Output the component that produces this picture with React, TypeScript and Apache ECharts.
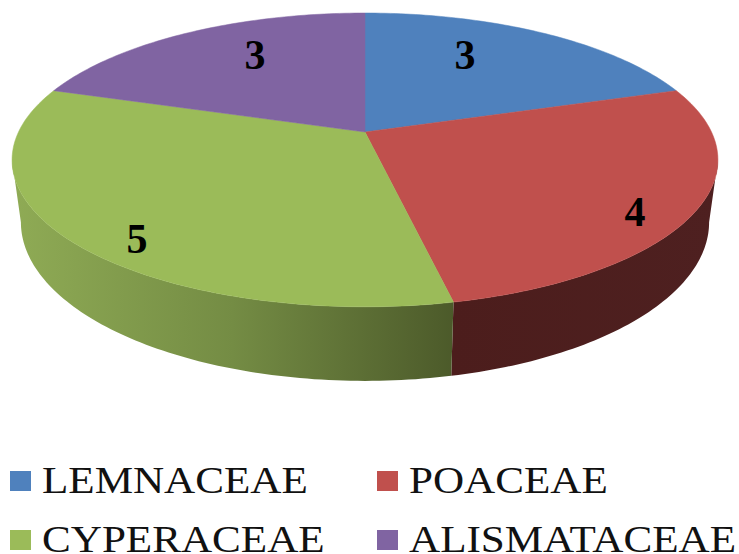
import React, { useEffect, useRef } from "react";
import * as echarts from "echarts";

const families = ["LEMNACEAE", "POACEAE", "CYPERACEAE", "ALISMATACEAE"];
const counts = [3, 4, 5, 3];
const sliceColors = ["#4f81bd", "#c0504d", "#9bbb59", "#8064a2"];
const serifFont = '"Liberation Serif", "Times New Roman", serif';

// Projection of the tilted disc onto the page.
const APEX_X = 365;
const APEX_Y = 132;
const RADIUS_X = 346.5;
const RADIUS_Y = 141.6;
const PERSPECTIVE = 0.19;
const THICKNESS = 60;
const BASE_SHRINK = 0.975;
const WALL_FROM = 101;
const WALL_TO = 259;

// Value label centres, relative to the apex.
const labelOffsets = [
  [100, -77],
  [270, 80],
  [-228, 107],
  [-110, -77],
];

const wallFills = [
  null,
  new echarts.graphic.LinearGradient(0, 0, 1, 0, [
    { offset: 0, color: "#4c1d1c" },
    { offset: 1, color: "#4e2020" },
  ]),
  new echarts.graphic.LinearGradient(0, 0, 1, 0, [
    { offset: 0, color: "#8fab55" },
    { offset: 0.5, color: "#748c44" },
    { offset: 1, color: "#4c5a2a" },
  ]),
  null,
];

function project(deg: number, r = 1): [number, number, number] {
  const a = (deg * Math.PI) / 180;
  const X = r * Math.sin(a);
  const Y = r * Math.cos(a);
  const s = 1 / (1 + PERSPECTIVE * Y);
  return [APEX_X + RADIUS_X * X * s, APEX_Y - RADIUS_Y * Y * s, s];
}

function arc(from: number, to: number): number[][] {
  const steps = Math.max(2, Math.ceil(Math.abs(to - from)));
  const pts: number[][] = [];
  for (let i = 0; i <= steps; i++) {
    const p = project(from + ((to - from) * i) / steps);
    pts.push(p);
  }
  return pts;
}

const toBase = (p: number[]) => [
  APEX_X + (p[0] - APEX_X) * BASE_SHRINK,
  p[1] + THICKNESS * p[2],
];

const total = counts.reduce((a, b) => a + b, 0);

function renderSlice(params: any, api: any) {
  const i = params.dataIndex;
  const before = counts.slice(0, i).reduce((a, b) => a + b, 0);
  const start = (before / total) * 360;
  const end = start + (api.value(0) / total) * 360;
  const children: any[] = [];

  const wFrom = Math.max(start, WALL_FROM);
  const wTo = Math.min(end, WALL_TO);
  if (wTo > wFrom && wallFills[i]) {
    const rim = arc(wFrom, wTo);
    const base = rim.map(toBase).reverse();
    children.push({
      type: "polygon",
      shape: { points: [...rim.map((p) => [p[0], p[1]]), ...base] },
      style: { fill: wallFills[i] },
    });
  }

  const top = arc(start, end).map((p) => [p[0], p[1]]);
  children.push({
    type: "polygon",
    shape: { points: [[APEX_X, APEX_Y], ...top] },
    style: { fill: sliceColors[i], stroke: sliceColors[i], lineWidth: 0.5 },
  });

  children.push({
    type: "text",
    z2: 10,
    x: APEX_X + labelOffsets[i][0],
    y: APEX_Y + labelOffsets[i][1],
    style: {
      text: String(api.value(0)),
      fill: "#000",
      fontFamily: serifFont,
      fontWeight: "bold",
      fontSize: 42,
      align: "center",
      verticalAlign: "middle",
    },
  });

  return { type: "group", children };
}

// Two-column key below the disc; the glyphs are stretched sideways.
const keyColumns = [10, 377];
const keyRows = [471, 530];
const keyTextLeft = [42, 409];

function keyEntries() {
  const items: any[] = [];
  families.forEach((name, idx) => {
    const col = idx % 2;
    const y = keyRows[Math.floor(idx / 2)];
    items.push({
      type: "rect",
      shape: { x: keyColumns[col], y, width: 21, height: 20 },
      style: { fill: sliceColors[idx] },
    });
    items.push({
      type: "text",
      x: keyTextLeft[col],
      y: y + 9,
      scaleX: 1.135,
      style: {
        text: name,
        fill: "#111",
        fontFamily: serifFont,
        fontSize: 38,
        lineHeight: 26,
        align: "left",
        verticalAlign: "middle",
      },
    });
  });
  return items;
}

export default function App() {
  const ref = useRef<HTMLDivElement>(null);

  useEffect(() => {
    const chart = echarts.init(ref.current!, null, { renderer: "svg" });
    chart.setOption({
      animation: false,
      backgroundColor: "#fff",
      graphic: keyEntries(),
      series: [
        {
          type: "custom",
          coordinateSystem: "none",
          renderItem: renderSlice,
          data: counts.map((c, i) => ({ name: families[i], value: [c] })),
        },
      ],
    });
    return () => chart.dispose();
  }, []);

  return (
    <div
      ref={ref}
      style={{ position: "absolute", left: 0, top: 0, width: 739, height: 554 }}
    />
  );
}
